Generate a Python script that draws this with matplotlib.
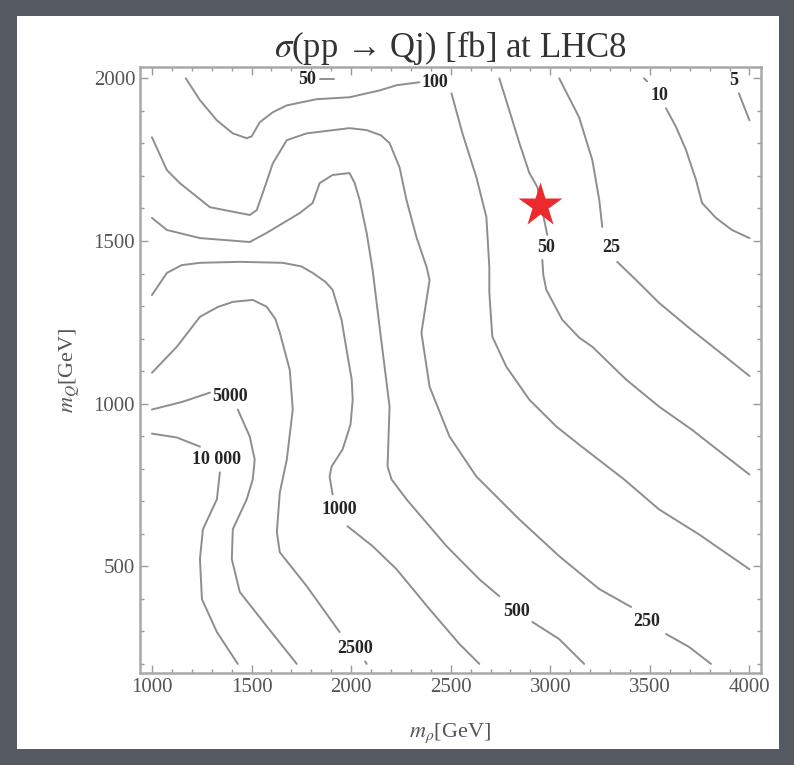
import numpy as np
import matplotlib.pyplot as plt
from matplotlib.patches import Rectangle

nan = np.nan

# contour lines (m_rho [GeV], m_Q [GeV]); nan = gap for the label
c10000_x = [1000, 1125, 1241, nan, 1341, 1326, 1256, 1241, 1251, 1326, 1431]
c10000_y = [908, 896, 868, nan, 789, 706, 614, 522, 399, 298, 200]

c5000_x = [1000, 1155, 1291, nan, 1431, 1491, 1516, 1506, 1476, 1406, 1401, 1441, 1576, 1727]
c5000_y = [982, 1006, 1034, nan, 982, 899, 828, 767, 706, 614, 522, 421, 316, 200]

c2500_x = [1000, 1125, 1241, 1330, 1406, 1506, 1576, 1620, 1642, 1692, 1707, 1677, 1642, 1627, 1642, 1777, 1942,
           nan, 2070, 2078]
c2500_y = [1095, 1175, 1267, 1297, 1313, 1319, 1298, 1260, 1218, 1104, 982, 828, 727, 605, 543, 439, 298,
           nan, 208, 200]

c1000_x = [1000, 1075, 1150, 1241, 1441, 1657, 1750, 1807, 1870, 1907, 1952, 1977, 2003, 2008, 1997, 1957, 1902,
           1892, 1907, nan, 1982, 2108, 2228, 2394, 2544, 2644]
c1000_y = [1334, 1402, 1426, 1433, 1436, 1433, 1422, 1402, 1375, 1350, 1258, 1166, 1074, 1012, 936, 859, 807,
           776, 721, nan, 623, 562, 491, 368, 261, 200]

c500_x = [1000, 1075, 1241, 1491, 1576, 1742, 1807, 1842, 1907, 1992, 2018, 2043, 2078, 2108, 2143, 2193,
          2183, 2203, 2278, 2479, 2644, 2744, nan, 2910, 3045, 3170]
c500_y = [1571, 1534, 1509, 1497, 1525, 1586, 1617, 1678, 1703, 1709, 1678, 1626, 1525, 1411, 1236, 991,
          807, 767, 706, 562, 460, 408, nan, 329, 276, 200]

c250_x = [1000, 1075, 1140, 1291, 1441, 1491, 1526, 1556, 1607, 1677, 1777, 1992, 2078, 2150, 2193, 2243, 2278,
          2328, 2379, 2394, 2353, 2394, 2494, 2629, 2845, 3045, 3246, 3406, nan, 3581, 3697, 3807]
c250_y = [1819, 1718, 1678, 1604, 1586, 1580, 1595, 1647, 1739, 1810, 1831, 1847, 1841, 1825, 1801, 1727, 1626,
          1512, 1420, 1380, 1218, 1052, 899, 776, 644, 531, 430, 375, nan, 292, 252, 200]

c100_x = [1170, 1241, 1326, 1406, 1476, 1501, 1541, 1607, 1677, 1827, 1992, 2143, 2228, 2343, nan,
          2504, 2559, 2629, 2679, 2694, 2694, 2709, 2779, 2895, 3030, 3145, 3371, 3546, 3747, 4000]
c100_y = [2000, 1933, 1871, 1831, 1816, 1822, 1865, 1896, 1917, 1936, 1942, 1963, 1979, 1988, nan,
          1954, 1831, 1696, 1574, 1420, 1341, 1206, 1114, 1012, 930, 874, 767, 675, 598, 491]

c50_x = [2744, 2794, 2845, 2895, 2935, 2985, nan, 2960, 2965, 2980, 3060, 3145, 3211, 3381, 3546, 3711, 3882, 4000]
c50_y = [2000, 1902, 1801, 1709, 1666, 1519, nan, 1442, 1396, 1350, 1258, 1203, 1175, 1074, 991, 920, 838, 782]

c50top_x = [1842, 1912]
c50top_y = [1997, 1997]

c25_x = [3045, 3145, 3211, 3246, 3261, nan, 3336, 3431, 3546, 3697, 3847, 4000]
c25_y = [2000, 1880, 1749, 1626, 1543, nan, 1436, 1380, 1310, 1233, 1160, 1085]

c10_x = [3471, 3486, nan, 3581, 3632, 3682, 3732, 3762, 3832, 3912, 4000]
c10_y = [2000, 1991, nan, 1908, 1850, 1779, 1687, 1617, 1571, 1534, 1509]

c5_x = [3947, 4000]
c5_y = [1954, 1871]

contours = [(c10000_x, c10000_y), (c5000_x, c5000_y), (c2500_x, c2500_y), (c1000_x, c1000_y),
            (c500_x, c500_y), (c250_x, c250_y), (c100_x, c100_y), (c50_x, c50_y),
            (c50top_x, c50top_y), (c25_x, c25_y), (c10_x, c10_y), (c5_x, c5_y)]

label_text = ['100', '50', '50', '25', '10', '5', '5000', '10 000', '1000', '2500', '500', '250']
label_x = [2419, 1777, 2980, 3306, 3546, 3922, 1391, 1326, 1942, 2018, 2830, 3486]
label_y = [1988, 1997, 1479, 1479, 1948, 1994, 1022, 828, 675, 246, 362, 329]

star_x = [2950]
star_y = [1610]

plt.rcParams['font.family'] = ['Liberation Serif', 'DejaVu Serif']
plt.rcParams['mathtext.fontset'] = 'stix'

fig = plt.figure(figsize=(7.94, 7.65), dpi=100)
fig.patch.set_facecolor('#555a62')
fig.add_artist(Rectangle((17 / 794, 16 / 765), 762 / 794, 733 / 765, transform=fig.transFigure,
                         facecolor='white', edgecolor='none', zorder=0))

ax = fig.add_axes([140 / 794, 92 / 765, 621 / 794, 606 / 765])
for cx, cy in contours:
    ax.plot(cx, cy, color='#8e8e8e', lw=1.4, solid_joinstyle='round', solid_capstyle='round', zorder=2)
for t, lx, ly in zip(label_text, label_x, label_y):
    ax.text(lx, ly, t, ha='center', va='center', fontsize=13, fontweight='bold', color='#262626', zorder=3)
ax.plot(star_x, star_y, marker='*', ms=33, color='#ec2a2d', mec='none', ls='none', zorder=4)

ax.set_xlim(940, 4058)
ax.set_ylim(172, 2035)
ax.set_xticks(np.arange(1000, 4001, 500))
ax.set_xticks(np.arange(1000, 4001, 100), minor=True)
ax.set_yticks(np.arange(500, 2001, 500))
ax.set_yticks(np.arange(200, 2001, 100), minor=True)
ax.tick_params(which='both', direction='in', top=True, right=True, color='#9a9a9a',
               labelcolor='#555555', labelsize=15, width=1)
ax.tick_params(which='major', length=6)
ax.tick_params(which='minor', length=3)
for s in ax.spines.values():
    s.set_color('#a8a8a8')
    s.set_linewidth(1.8)

ax.set_title(r'$\sigma$(pp → Qj) [fb] at LHC8', fontsize=25, color='#333333', pad=4)
ax.set_xlabel(r'$m_\rho$[GeV]', fontsize=16, color='#555555', labelpad=18)
ax.set_ylabel(r'$m_Q$[GeV]', fontsize=16, color='#555555', labelpad=8)

fig.savefig('out.png', dpi=100, facecolor=fig.get_facecolor())
